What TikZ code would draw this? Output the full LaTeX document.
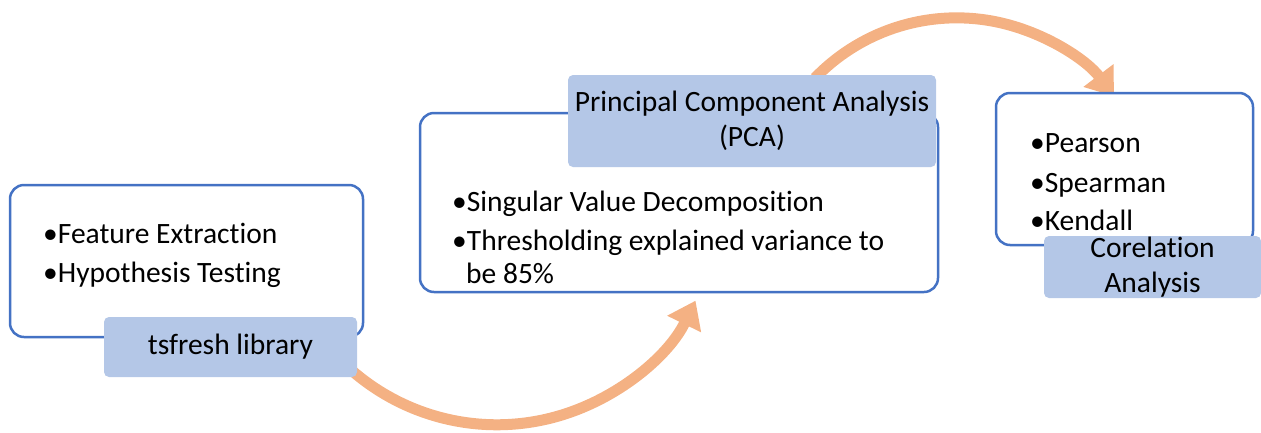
\documentclass[tikz,border=0pt]{standalone}
\usepackage{fontspec}
\setmainfont{Carlito}[Ligatures={NoCommon}]
\usetikzlibrary{arrows.meta,calc}
\definecolor{boxblue}{RGB}{68,114,196}
\definecolor{labfill}{RGB}{180,199,231}
\definecolor{arrorange}{RGB}{244,177,131}
\pgfdeclarelayer{bg}
\pgfsetlayers{bg,main}
\begin{document}
\begin{tikzpicture}[x=1pt,y=-1pt,
  outline/.style={draw=boxblue, line width=2.5pt, rounded corners=14pt, fill=white, inner sep=0pt},
  tagbox/.style={fill=labfill, rounded corners=5pt, inner sep=0pt, align=center, font=\fontsize{29.5}{35}\selectfont},
  item/.style={anchor=base west, inner sep=0pt, font=\fontsize{29.5}{34}\selectfont},
  flow/.style={draw=arrorange, line width=11pt, -{Triangle[width=36pt,length=26pt]}}
]
\useasboundingbox (0,0) rectangle (1261,432);
% box 1
\node[outline, minimum width=353pt, minimum height=152pt] (box1) at (186.5,261) {};
\node[item] (b1a) at (43,243) {•Feature Extraction};
\node[item] (b1b) at (43,282) {•Hypothesis Testing};
\node[tagbox, minimum width=253pt, minimum height=60pt] (lab1) at (230.5,347) {tsfresh library};
% box 2
\node[outline, minimum width=518pt, minimum height=179pt] (box2) at (679,202.5) {};
\node[tagbox, minimum width=368pt, minimum height=92pt] (lab2) at (752,121) {Principal Component Analysis\\(PCA)};
\node[item] (b2a) at (452,211) {•Singular Value Decomposition};
\node[item] (b2b) at (452,250) {•Thresholding explained variance to};
\node[item] (b2c) at (466,283) {be 85\%};
% box 3
\node[outline, minimum width=257pt, minimum height=152pt] (box3) at (1124.5,169) {};
\node[item] (b3a) at (1030,152) {•Pearson};
\node[item] (b3b) at (1030,192) {•Spearman};
\node[item] (b3c) at (1030,230) {•Kendall};
\node[tagbox, minimum width=217pt, minimum height=62pt] (lab3) at (1152.5,267) {Corelation\\Analysis};
% arrows
\coordinate (a1s) at (349,368);
\coordinate (a2s) at (815,78);
\begin{pgfonlayer}{bg}
\draw[flow] (a1s) arc[start angle=228, end angle=334, radius=221pt];
\draw[flow] (a2s) arc[start angle=136, end angle=37, radius=197pt];
\end{pgfonlayer}
\end{tikzpicture}
\end{document}
